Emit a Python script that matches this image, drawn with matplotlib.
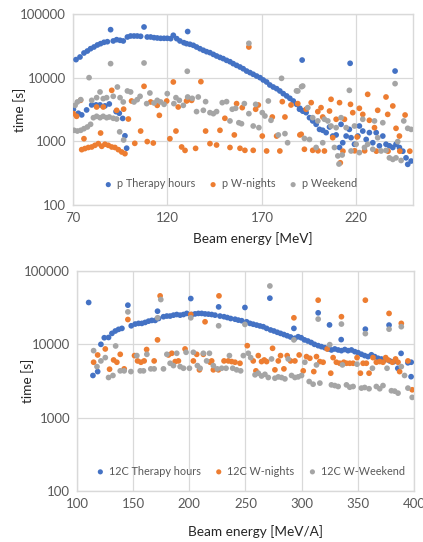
import matplotlib
matplotlib.use("Agg")
import matplotlib.pyplot as plt
from matplotlib.ticker import FixedLocator, FuncFormatter, NullLocator

plt.rcParams['font.family'] = ['Lato', 'DejaVu Sans']

# ---------------- top panel: protons ----------------
p_therapy = [
    (70.2, 3190), (72.8, 2760), (74.6, 2600), (77.2, 3110), (79.9, 3730), (82.2, 3730),
    (84.3, 3730), (86.9, 3600), (89.2, 3860), (92.8, 2930), (94.5, 2760), (96.3, 2290),
    (97.5, 1220), (98.4, 780),
    (71.6, 19200), (73.7, 21100), (75.8, 24400), (77.6, 26200), (79.3, 28500), (81.1, 30300),
    (82.9, 32600), (84.6, 34200), (86.4, 35900), (88.2, 36700), (91.3, 37700), (93.1, 39500),
    (94.9, 38600), (96.6, 37700), (98.8, 43500), (100.5, 45100), (102.3, 45100), (104.0, 45100),
    (105.8, 44600), (109.3, 43500), (111.1, 43500), (112.9, 42500), (114.6, 42000), (116.4, 41500),
    (118.2, 41500), (119.9, 41500), (121.7, 41000), (123.1, 46300), (124.9, 41000), (126.6, 37700),
    (128.7, 35400), (130.1, 34200), (131.9, 33400), (133.7, 32200), (135.4, 30300), (137.2, 28500),
    (139.0, 26900), (140.7, 25600), (142.5, 24700), (144.3, 23200), (146.0, 21900), (147.8, 20800),
    (149.5, 19900), (151.3, 18700), (153.1, 17800), (154.8, 16600), (156.6, 15600), (158.4, 14700),
    (160.1, 13800), (161.9, 12700), (163.7, 12000), (165.4, 11300), (167.2, 10600), (169.0, 10000),
    (170.7, 9200), (172.5, 8550), (174.2, 7670), (176.0, 7130), (177.8, 6710), (179.5, 6180),
    (181.3, 5610), (183.1, 5160), (184.8, 4740), (186.6, 4300), (188.4, 3810), (190.1, 3300),
    (191.9, 2990),
    (189.9, 3190), (191.6, 2990), (193.4, 2820), (195.2, 2350), (196.9, 2090), (198.7, 1850),
    (200.5, 1540), (202.2, 1490), (204.0, 1370), (205.8, 1680), (207.5, 1210), (209.3, 1260),
    (211.1, 800), (211.9, 1850), (212.8, 950), (214.6, 1210), (216.3, 1540), (217.2, 1140),
    (219.0, 900), (220.8, 1210), (221.6, 1740), (223.4, 1450), (225.2, 1070), (226.9, 1370),
    (228.7, 950), (230.5, 1370), (232.2, 850), (234.0, 1210), (235.7, 900), (237.5, 850),
    (239.3, 800), (241.0, 900), (242.8, 800), (244.6, 700), (246.3, 550), (247.2, 435),
    (249.0, 490),
    (89.9, 56700), (107.6, 62500), (130.7, 53000), (191.3, 18900), (216.7, 16800), (240.5, 12700),
]

p_wnights = [
    (74.6, 740), (76.3, 770), (78.1, 800), (79.9, 815), (81.6, 865), (83.4, 920), (85.2, 835),
    (86.9, 900), (88.7, 865), (90.5, 815), (92.2, 800), (94.0, 740), (95.8, 680), (97.5, 640),
    (70.2, 2720), (71.9, 2470), (74.0, 4410), (75.8, 1100), (82.5, 3460), (84.6, 1350),
    (86.0, 3460), (90.5, 6320), (93.1, 3070), (96.8, 3200), (99.3, 2240), (101.0, 4300),
    (102.7, 930), (105.8, 1450), (107.6, 7310), (109.3, 990), (111.1, 4150), (112.5, 940),
    (114.6, 3670), (115.7, 2560), (119.6, 4300), (121.3, 1100), (123.1, 8550), (124.5, 1450),
    (125.7, 3460), (127.5, 815), (129.3, 720), (131.0, 4510),
    (130.1, 4300), (132.8, 4400), (134.9, 775), (137.7, 8650), (140.2, 1450), (142.5, 920),
    (146.0, 875), (147.8, 1490), (150.4, 2300), (153.1, 800), (155.4, 1260), (156.6, 3910),
    (158.4, 777), (159.6, 3380), (161.0, 722), (163.1, 30300), (165.4, 722), (166.7, 3190),
    (168.1, 3720), (170.2, 1210), (172.5, 705), (175.5, 2410), (177.8, 1210), (179.5, 705),
    (180.8, 4200), (182.2, 2410), (185.4, 3720), (190.1, 1260),
    (189.0, 3910), (190.8, 1290), (192.5, 750), (193.4, 3190), (196.1, 4050), (196.9, 722),
    (199.6, 2930), (199.7, 710), (201.3, 3380), (202.2, 2410), (203.1, 705), (205.8, 2990),
    (206.6, 4570), (207.5, 1140), (209.3, 2220), (211.1, 4050), (211.5, 460), (212.9, 700),
    (213.7, 2220), (216.9, 3810), (218.1, 2820), (219.1, 710), (220.4, 1170), (221.6, 3300),
    (223.4, 2650), (224.4, 710), (226.0, 5470), (226.9, 2140), (229.6, 1640), (230.6, 700),
    (231.3, 3070), (235.7, 4970), (236.6, 2650), (236.8, 700), (239.3, 3590), (241.0, 1600),
    (242.8, 1210), (243.0, 700), (245.8, 2590), (248.3, 700),
]

p_weekend = [
    (70.5, 1490), (72.3, 1450), (74.1, 1490), (75.8, 1580), (77.6, 1680), (79.3, 1850),
    (80.8, 2350), (82.5, 2470), (84.3, 2350), (86.0, 2470), (87.8, 2350), (89.2, 2410),
    (91.3, 2300), (93.1, 2240), (94.7, 1410), (96.8, 1050),
    (71.1, 3670), (72.3, 4150), (74.1, 4510), (79.9, 4400), (82.5, 4850), (84.3, 5960),
    (86.0, 4680), (87.8, 4850), (91.3, 5090), (93.5, 7130), (94.9, 4850), (96.6, 4150),
    (98.8, 6180), (100.5, 5960), (102.3, 4150), (104.0, 4510), (105.5, 5090), (109.0, 3910),
    (110.7, 5740), (112.9, 4000), (114.6, 4400), (116.4, 4150), (118.2, 3810), (119.9, 5610),
    (123.4, 3910), (124.5, 4850), (126.3, 4400), (128.4, 3670),
    (78.5, 10000), (89.9, 16600), (107.6, 17000), (130.5, 12600),
    (130.7, 4970), (133.1, 4730), (135.4, 2930), (136.3, 4970), (139.0, 3070), (140.2, 4200),
    (142.5, 2820), (144.3, 2720), (146.0, 2930), (149.0, 4050), (151.3, 4200), (153.1, 2090),
    (154.3, 3190), (156.1, 3300), (157.8, 1960), (159.2, 1890), (160.7, 3910), (163.1, 34600),
    (163.1, 2720), (165.4, 1740), (166.7, 3810), (168.4, 1640), (170.2, 2820), (171.6, 2500),
    (173.4, 4300), (174.8, 2140), (178.7, 1260), (180.4, 9760), (182.2, 1320), (183.6, 950),
    (188.3, 6200), (191.0, 7220),
    (189.0, 6180), (191.6, 7390), (192.5, 1110), (194.3, 3380), (195.2, 1070), (196.9, 2350),
    (198.7, 800), (199.6, 2090), (202.2, 950), (203.1, 2220), (204.9, 2090), (206.6, 1740),
    (208.4, 800), (209.3, 1640), (210.2, 590), (210.8, 440), (211.9, 2350), (212.5, 610),
    (214.6, 1640), (216.3, 6320), (217.2, 705), (219.0, 1740), (219.9, 900), (221.6, 665),
    (223.4, 2220), (224.3, 800), (226.0, 900), (228.7, 750), (229.6, 2090), (231.3, 1140),
    (233.1, 705), (234.0, 1960), (235.7, 720), (237.5, 550), (239.3, 520), (240.5, 8050),
    (241.0, 550), (241.9, 990), (243.7, 500), (245.1, 2090), (247.2, 1600), (249.0, 1540),
]

# ---------------- bottom panel: carbon ions ----------------
c_therapy = [
    (110.4, 37200), (145.3, 34200), (171.7, 28300), (201.3, 42100), (226.1, 32400),
    (249.5, 31800), (271.7, 42600), (293.1, 16500), (314.7, 26900), (324.8, 18400),
    (335.2, 11600), (356.7, 16100), (377.8, 18300), (388.5, 7530), (385.6, 4710), (397.4, 3620),
    (114.2, 3760), (118.4, 4250), (121.3, 10000), (124.3, 12300), (128.1, 12400), (131.1, 14100),
    (134.1, 15200), (137.0, 16000), (140.0, 16500), (148.3, 17900), (151.8, 18900), (154.8, 19300),
    (157.7, 19300), (160.7, 19900), (163.7, 20700), (166.6, 21200), (169.6, 21200), (172.6, 22500),
    (177.0, 23800), (180.0, 24300), (182.9, 24300), (185.9, 25000), (188.8, 25500), (191.8, 25000),
    (194.8, 25500), (197.7, 26400), (202.2, 25500), (205.1, 26000), (208.1, 26400), (211.0, 26400),
    (214.0, 26000), (217.0, 25800), (219.9, 25500), (222.9, 25000), (227.3, 24300), (230.9, 23800),
    (233.8, 23200), (236.8, 22500), (240.7, 22000), (243.6, 21400), (246.6, 21000), (251.0, 20300),
    (254.0, 19300), (256.9, 18800), (259.9, 18300), (262.9, 17800), (265.8, 17400), (268.8, 16500),
    (272.3, 15700), (275.3, 15200), (278.3, 14600), (281.2, 14100), (284.2, 13600), (287.1, 13100),
    (290.1, 12600), (294.0, 12100), (296.9, 12700), (299.6, 12300), (302.5, 11500), (305.5, 11100),
    (308.5, 10600), (311.4, 10000), (314.7, 9600), (317.6, 9300), (320.6, 9000), (323.6, 8650),
    (326.5, 8380), (329.5, 8650), (332.5, 8380), (335.4, 8200), (338.4, 8500), (341.3, 8200),
    (344.3, 8380), (347.3, 7950), (350.2, 7700), (353.2, 7320), (356.1, 7020), (359.1, 6800),
    (362.1, 7200), (365.0, 6800), (368.0, 6460), (371.0, 6310), (373.9, 6120), (378.4, 5940),
    (382.0, 5800), (394.6, 5600), (397.5, 5700),
]

c_wnights = [
    (174.0, 45800), (145.3, 21800), (171.7, 11500), (214.0, 20300), (226.4, 45800),
    (293.1, 23000), (314.7, 40000), (335.4, 23800), (356.7, 40000), (377.8, 26400),
    (388.7, 19300), (201.3, 25500),
    (114.8, 5700), (118.4, 7160), (125.2, 8650), (129.0, 4580), (132.6, 6120), (135.5, 5700),
    (138.5, 7310), (142.0, 4630), (151.2, 7020), (153.9, 5940), (156.9, 5700), (159.8, 5940),
    (162.0, 8500), (168.7, 5940), (181.4, 7160), (184.4, 7550), (187.4, 5820), (190.3, 5940),
    (196.2, 8650), (203.6, 5940), (206.6, 7310), (209.0, 4490), (212.5, 7310), (218.5, 5700),
    (219.9, 5940), (221.4, 4490), (225.9, 4490), (230.9, 5940), (234.7, 5940), (237.7, 5820),
    (240.7, 5700), (245.1, 5520), (251.6, 9590), (256.9, 5940), (259.3, 4350), (261.4, 7020),
    (264.3, 5820), (266.7, 6120), (268.8, 5820), (274.1, 8830), (276.2, 4490), (279.2, 5940),
    (281.2, 7020), (284.2, 4630), (287.1, 7020), (290.1, 5940), (294.0, 5940), (297.8, 7160),
    (301.4, 4350), (304.3, 6800), (307.3, 6460), (310.8, 4250), (313.2, 6800), (316.2, 5820),
    (319.1, 5700), (322.7, 8650), (325.9, 4040), (328.0, 6590), (330.9, 5700), (333.9, 5520),
    (337.5, 5700), (339.9, 5520), (342.8, 5520), (345.8, 5520), (349.3, 6590), (352.3, 4040),
    (354.7, 5520), (357.6, 5520), (360.0, 4040), (363.5, 6590), (366.5, 5700), (369.5, 5820),
    (372.4, 5700), (374.8, 6590), (376.9, 6120), (380.7, 5700), (383.6, 6320), (385.8, 5700),
    (387.2, 4250), (394.6, 5940), (398.4, 2400),
]

c_weekend = [
    (271.7, 62500), (174.6, 40800), (145.3, 27700), (171.7, 23000), (201.3, 23000),
    (226.1, 17900), (249.5, 18700), (293.1, 11500), (314.7, 22100), (325.0, 9900),
    (335.4, 18900), (356.7, 14000), (377.8, 16100), (388.7, 17400),
    (114.8, 8200), (117.8, 4970), (121.3, 5940), (125.2, 6590), (128.1, 3530), (132.0, 3760),
    (134.4, 9500), (138.5, 4350), (142.0, 4350), (148.0, 4250), (153.3, 7020), (156.3, 4350),
    (159.2, 4350), (162.2, 7310), (165.7, 4630), (168.7, 4630), (177.0, 4630), (180.0, 7310),
    (182.9, 5520), (185.9, 5130), (188.8, 7550), (191.8, 4970), (194.8, 4720), (197.1, 7790),
    (200.1, 4720), (203.6, 7790), (207.2, 5130), (209.6, 4720), (212.5, 7550), (215.4, 5940),
    (217.9, 7550), (221.4, 5130), (224.9, 4630), (228.8, 4720), (232.7, 4720), (235.7, 7020),
    (238.6, 4720), (242.1, 4490), (245.7, 4350), (248.1, 7020), (252.5, 7550), (254.6, 6590),
    (258.5, 3840), (261.4, 4040), (264.3, 3700), (267.3, 3900), (270.3, 3530), (273.2, 6320),
    (276.2, 3450), (279.2, 3600), (282.1, 3530), (285.1, 3380), (288.0, 6320), (291.0, 3760),
    (294.0, 3530), (296.9, 3600), (299.9, 3760), (302.8, 5700), (306.7, 3110), (310.2, 2860),
    (313.2, 5240), (316.2, 2960), (326.5, 2800), (329.5, 2740), (332.5, 2660), (336.3, 5240),
    (339.9, 2800), (342.8, 2600), (345.8, 2660), (349.3, 5360), (353.2, 2530), (356.1, 2580),
    (360.0, 2480), (363.0, 4720), (366.5, 2660), (369.5, 2480), (372.4, 2740), (376.0, 4720),
    (379.9, 2330), (382.8, 2300), (385.8, 2160), (388.7, 4970), (391.6, 3760), (394.6, 2530),
    (398.4, 1890),
]

top_xticks = [70, 120, 170, 220]
bot_xticks = [100, 150, 200, 250, 300, 350, 400]
yticks = [100, 1000, 10000, 100000]

BLUE = '#4472C4'
ORANGE = '#ED7D31'
GRAY = '#A5A5A5'
TICKC = '#595959'
GRIDC = '#D9D9D9'

fig = plt.figure(figsize=(4.23, 5.42), dpi=100)
ax1 = fig.add_axes([0.1726, 0.6218, 0.8038, 0.3524])
ax2 = fig.add_axes([0.182, 0.0941, 0.7967, 0.4059])


def style(ax, xlim, xticks, xlabel, ylab_x, xlab_y):
    ax.set_yscale('log')
    ax.set_xlim(*xlim)
    ax.set_ylim(100, 100000)
    ax.xaxis.set_major_locator(FixedLocator(xticks))
    ax.yaxis.set_major_locator(FixedLocator(yticks))
    ax.yaxis.set_minor_locator(NullLocator())
    ax.yaxis.set_major_formatter(FuncFormatter(lambda v, p: f"{int(round(v))}"))
    ax.tick_params(length=0, labelsize=9.5, colors=TICKC, pad=5)
    ax.grid(True, color=GRIDC, linewidth=0.9)
    ax.set_axisbelow(True)
    for s in ax.spines.values():
        s.set_color(GRIDC)
        s.set_linewidth(1.0)
    ax.set_xlabel(xlabel, fontsize=9.8, color='#262626')
    ax.set_ylabel('time [s]', fontsize=9.8, color='#262626')
    ax.yaxis.set_label_coords(ylab_x, 0.5)
    ax.xaxis.set_label_coords(0.53, xlab_y)


def draw(ax, series, labels):
    for data, col, lab in zip(series, [BLUE, ORANGE, GRAY], labels):
        xs = [d[0] for d in data]
        ys = [d[1] for d in data]
        ax.scatter(xs, ys, s=17, color=col, edgecolors='none', label=lab, zorder=3)


legend_kw = dict(loc='center', ncol=3, frameon=False, fontsize=7.8, labelcolor=TICKC,
                 handlelength=0.8, handletextpad=0.4, columnspacing=1.25, markerscale=0.9,
                 borderaxespad=0, borderpad=0)

draw(ax1, [p_therapy, p_wnights, p_weekend], ['p Therapy hours', 'p W-nights', 'p Weekend'])
style(ax1, (70, 250), top_xticks, 'Beam energy [MeV]', -0.138, -0.14)
ax1.legend(bbox_to_anchor=(0.463, 0.11), **legend_kw)

draw(ax2, [c_therapy, c_wnights, c_weekend], ['12C Therapy hours', '12C W-nights', '12C W-Weekend'])
style(ax2, (100, 400), bot_xticks, 'Beam energy [MeV/A]', -0.128, -0.155)
ax2.legend(bbox_to_anchor=(0.515, 0.09), **legend_kw)

fig.savefig('out.png', dpi=100)
